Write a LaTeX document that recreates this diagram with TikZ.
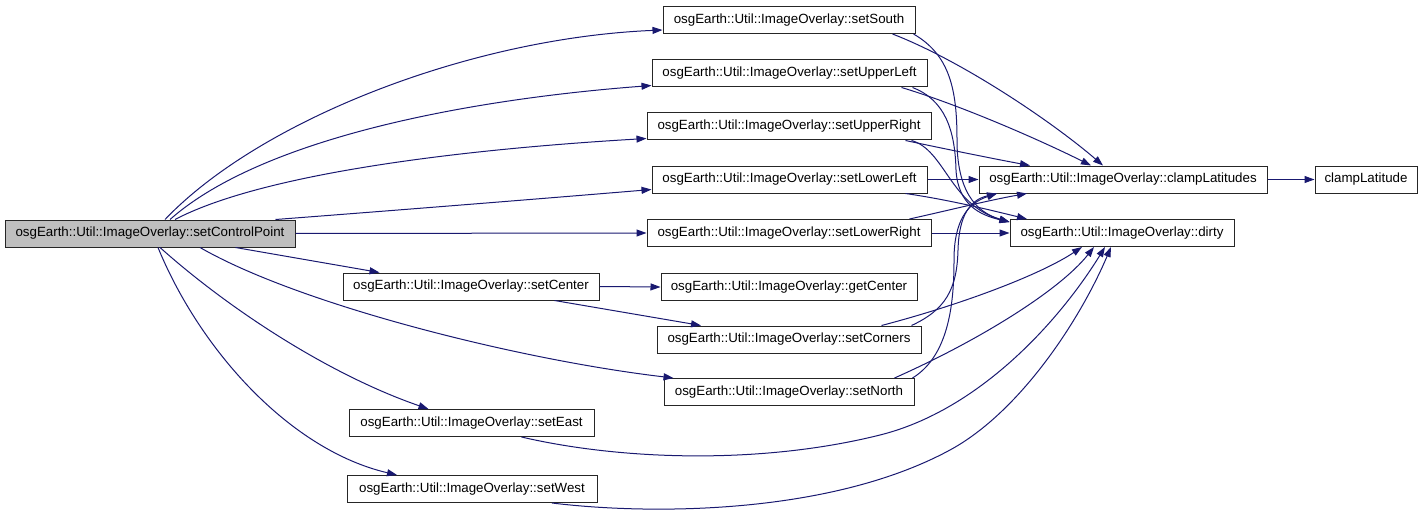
\documentclass[tikz,border=0pt]{standalone}
\usepackage{fontspec}
\setmainfont{Liberation Sans}
\usetikzlibrary{arrows.meta}
\definecolor{edgec}{HTML}{191970}
\definecolor{cpfill}{HTML}{BFBFBF}
\begin{document}
\begin{tikzpicture}[x=1pt,y=-1pt,
  fn/.style={draw=black!85, line width=1pt, minimum height=27pt, inner sep=0pt,
    font=\fontsize{13.33}{16}\selectfont, anchor=center, fill=white},
  ed/.style={draw=edgec, line width=1pt, -{Triangle[length=10pt,width=7pt]}, fill=none}]
\useasboundingbox (0,0) rectangle (1424,516);
% nodes
\node[fn, fill=cpfill, minimum width=290pt] (cp) at (150,233.5) {osgEarth::Util::ImageOverlay::setControlPoint};
\node[fn, minimum width=252pt] (south) at (789,20) {osgEarth::Util::ImageOverlay::setSouth};
\node[fn, minimum width=275pt] (ul) at (789.5,73.5) {osgEarth::Util::ImageOverlay::setUpperLeft};
\node[fn, minimum width=284pt] (ur) at (789,126.5) {osgEarth::Util::ImageOverlay::setUpperRight};
\node[fn, minimum width=275pt] (ll) at (789.5,179.5) {osgEarth::Util::ImageOverlay::setLowerLeft};
\node[fn, minimum width=284pt] (lr) at (789,233) {osgEarth::Util::ImageOverlay::setLowerRight};
\node[fn, minimum width=288pt] (clats) at (1123,179.5) {osgEarth::Util::ImageOverlay::clampLatitudes};
\node[fn, minimum width=224pt] (dirty) at (1122,233) {osgEarth::Util::ImageOverlay::dirty};
\node[fn, minimum width=102pt] (clat) at (1366,179.5) {clampLatitude};
\node[fn, minimum width=256pt] (center) at (471,286.5) {osgEarth::Util::ImageOverlay::setCenter};
\node[fn, minimum width=256pt] (get) at (789,287) {osgEarth::Util::ImageOverlay::getCenter};
\node[fn, minimum width=264pt] (corners) at (789,339.5) {osgEarth::Util::ImageOverlay::setCorners};
\node[fn, minimum width=250pt] (north) at (789,392) {osgEarth::Util::ImageOverlay::setNorth};
\node[fn, minimum width=245pt] (east) at (471.5,423) {osgEarth::Util::ImageOverlay::setEast};
\node[fn, minimum width=250pt] (west) at (472,489) {osgEarth::Util::ImageOverlay::setWest};
% edges from setControlPoint
\draw[ed] ([xshift=15pt]cp.north) .. controls (260,120) and (470,38) .. ([yshift=-10pt]south.west);
\draw[ed] ([xshift=20pt]cp.north) .. controls (260,140) and (460,100) .. ([yshift=-12pt]ul.west);
\draw[ed] ([xshift=25pt]cp.north) .. controls (260,175) and (450,150) .. ([yshift=-12pt]ur.west);
\draw[ed] ([xshift=-20pt]cp.north east) .. controls (400,210) and (550,198) .. ([yshift=-10pt]ll.west);
\draw[ed] (cp.east) -- (lr.west);
\draw[ed] ([xshift=-60pt]cp.south east) -- ([xshift=37pt]center.north west);
\draw[ed] ([xshift=50pt]cp.south) .. controls (300,305) and (520,360) .. ([xshift=10pt]north.north west);
\draw[ed] ([xshift=10pt]cp.south) .. controls (230,310) and (330,375) .. ([xshift=-43pt]east.north);
\draw[ed] ([xshift=8pt]cp.south) .. controls (200,350) and (290,450) .. ([xshift=-75pt]west.north);
% setCenter
\draw[ed] (center.east) -- (get.west);
\draw[ed] ([xshift=-45pt]center.south east) -- ([xshift=-88pt]corners.north);
% to clampLatitudes / dirty
\draw[ed] ([xshift=-23pt]south.south east) .. controls (960,60) and (1050,120) .. ([xshift=-20pt]clats.north);
\draw[ed] ([xshift=-2pt]south.south east) .. controls (950,55) and (957,90) .. (957,140) .. controls (957,190) and (975,212) .. ([yshift=-3pt]dirty.north west);
\draw[ed] ([xshift=-26pt]ul.south east) .. controls (960,105) and (1040,140) .. ([xshift=-32pt]clats.north);
\draw[ed] ([xshift=-15pt]ul.south east) .. controls (945,100) and (955,130) .. (956,170) .. controls (958,205) and (980,215) .. ([yshift=-3pt]dirty.north west);
\draw[ed] ([xshift=-26pt]ur.south east) .. controls (950,150) and (1000,160) .. ([xshift=-93pt]clats.north);
\draw[ed] ([xshift=-20pt]ur.south east) .. controls (945,150) and (950,205) .. ([yshift=-3pt]dirty.north west);
\draw[ed] (ll.east) -- (clats.west);
\draw[ed] ([xshift=-22pt]ll.south east) .. controls (950,200) and (990,210) .. ([xshift=-95pt]dirty.north);
\draw[ed] ([xshift=-22pt]lr.north east) .. controls (950,210) and (990,200) .. ([xshift=-96pt]clats.south);
\draw[ed] (lr.east) -- (dirty.west);
\draw[ed] ([xshift=-10pt]corners.north east) .. controls (945,310) and (957,290) .. (958,250) .. controls (959,215) and (970,200) .. ([xshift=-126pt]clats.south);
\draw[ed] ([xshift=-40pt]corners.north east) .. controls (960,305) and (1040,275) .. ([xshift=-40pt]dirty.south);
\draw[ed] ([xshift=-2pt]north.north east) .. controls (950,355) and (954,300) .. (954,260) .. controls (954,220) and (968,203) .. ([xshift=-126pt]clats.south);
\draw[ed] ([xshift=-20pt]north.north east) .. controls (980,340) and (1060,290) .. ([xshift=-28pt]dirty.south);
\draw[ed] ([xshift=50pt]east.south) .. controls (620,460) and (760,465) .. (880,435) .. controls (980,410) and (1060,320) .. ([xshift=-17pt]dirty.south);
\draw[ed] ([xshift=80pt]west.south) .. controls (650,515) and (830,515) .. (950,450) .. controls (1020,412) and (1080,320) .. ([xshift=-11pt]dirty.south);
\draw[ed] (clats.east) -- (clat.west);
\end{tikzpicture}
\end{document}
